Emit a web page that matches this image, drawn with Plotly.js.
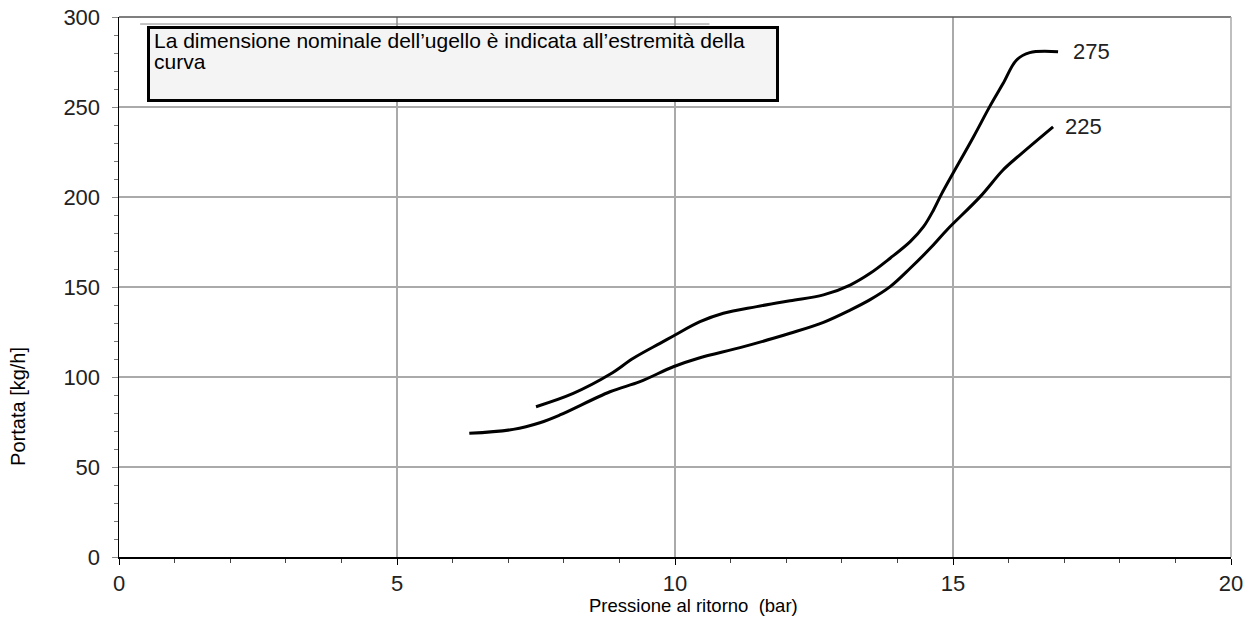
<!DOCTYPE html>
<html>
<head>
<meta charset="utf-8">
<script src="https://cdn.plot.ly/plotly-3.0.1.min.js"></script>
<style>html,body{margin:0;padding:0;background:#fff;}#chart{width:1256px;height:623px;}</style>
</head>
<body>
<div id="chart"></div>
<script>
// Nozzle 275 curve
const x275 = [7.5, 8.17, 8.83, 9.25, 9.73, 9.97, 10.45, 10.87, 11.47, 12.07, 12.67, 13.15, 13.51, 13.87, 14.23, 14.47, 14.65, 14.8, 15.37, 15.66, 15.9, 16.14, 16.38, 16.89];
const y275 = [83.5, 90.9, 101.5, 110.4, 118.7, 122.8, 130.7, 135.4, 139.1, 142.4, 145.6, 151.1, 157.6, 166, 175.2, 183.5, 192.8, 202, 233.5, 250.2, 263, 276, 280.2, 280.7];
// Nozzle 225 curve
const x225 = [6.3, 7.09, 7.57, 7.93, 8.83, 9.37, 9.97, 10.42, 11.17, 11.77, 12.07, 12.67, 13.15, 13.51, 13.87, 14.23, 14.59, 14.89, 15.49, 15.9, 16.2, 16.8];
const y225 = [68.7, 70.9, 74.6, 78.9, 91.8, 97.4, 105.7, 110.4, 116.3, 121.5, 124.3, 130.4, 137.2, 143, 150.2, 160.4, 171.5, 181.7, 200.2, 215, 223.3, 239];

const curveNames = ["275", "225"];
const xTickVals = [0, 5, 10, 15, 20];
const yTickVals = [0, 50, 100, 150, 200, 250, 300];
const noteLines = ["La dimensione nominale dell\u2019ugello è indicata all\u2019estremità della", "curva"];
const xTitle = "Pressione al ritorno \u00a0(bar)";
const yTitle = "Portata [kg/h]";

const FONT = "Liberation Sans, Arial, sans-serif";

const traces = [
  {x: x275, y: y275, mode: "lines", line: {color: "#000", width: 3, shape: "spline", smoothing: 1}, hoverinfo: "skip"},
  {x: x225, y: y225, mode: "lines", line: {color: "#000", width: 3, shape: "spline", smoothing: 1}, hoverinfo: "skip"}
];

const layout = {
  width: 1256, height: 623,
  margin: {l: 119, r: 25, t: 17, b: 66},
  paper_bgcolor: "#fff", plot_bgcolor: "#fff",
  showlegend: false,
  font: {family: FONT, color: "#222"},
  xaxis: {
    range: [0, 20], tickvals: xTickVals, ticktext: xTickVals.map(String),
    showgrid: true, gridcolor: "#aaa", gridwidth: 1.5, zeroline: false,
    showline: true, linecolor: "#000", linewidth: 1.5,
    ticks: "outside", ticklen: 6, tickcolor: "#000", tickwidth: 1,
    minor: {dtick: 1, ticks: "outside", ticklen: 4, tickcolor: "#444", showgrid: false},
    tickfont: {size: 22, family: FONT, color: "#222"},
    fixedrange: true
  },
  yaxis: {
    range: [0, 300], tickvals: yTickVals, ticktext: yTickVals.map(String),
    showgrid: true, gridcolor: "#aaa", gridwidth: 1.5, zeroline: false,
    showline: true, linecolor: "#000", linewidth: 1.5,
    ticks: "outside", ticklen: 6, tickcolor: "#888", tickwidth: 1,
    ticklabelstandoff: 7,
    minor: {dtick: 10, ticks: "outside", ticklen: 4, tickcolor: "#777", showgrid: false},
    tickfont: {size: 22, family: FONT, color: "#222"},
    fixedrange: true
  },
  shapes: [
    {type: "line", xref: "x", yref: "paper", x0: 5, x1: 5, y0: 0, y1: 1, line: {color: "#000", width: 1.3}, layer: "below"},
    {type: "line", xref: "paper", yref: "y", x0: 0, x1: 1, y0: 50, y1: 50, line: {color: "#000", width: 1.3}, layer: "below"},
    {type: "line", xref: "paper", yref: "y", x0: 0, x1: 1, y0: 250, y1: 250, line: {color: "#000", width: 1.3}, layer: "below"},
    {type: "line", xref: "paper", yref: "paper", x0: 0, x1: 1, y0: 1, y1: 1, line: {color: "#555", width: 1.5}},
    {type: "line", xref: "paper", yref: "paper", x0: 1, x1: 1, y0: 0, y1: 1, line: {color: "#aaa", width: 1.5}},
    {type: "line", xref: "paper", yref: "paper", x0: 0.019, x1: 0.531, y0: 0.987, y1: 0.987, line: {color: "#888", width: 1}}
  ],
  annotations: [
    {xref: "paper", yref: "paper", x: 0.0252, y: 0.983, xanchor: "left", yanchor: "top",
     text: " ", showarrow: false, width: 624, height: 68, bgcolor: "#f4f4f4",
     bordercolor: "#000", borderwidth: 3, borderpad: 1, font: {size: 10}},
    {xref: "paper", yref: "paper", x: 0.0297, y: 0.957, xanchor: "left", yanchor: "middle",
     text: noteLines[0], showarrow: false, font: {size: 21, family: FONT, color: "#000"}},
    {xref: "paper", yref: "paper", x: 0.0297, y: 0.9167, xanchor: "left", yanchor: "middle",
     text: noteLines[1], showarrow: false, font: {size: 21, family: FONT, color: "#000"}},
    {xref: "x", yref: "y", x: 17.12, y: 280.7, xanchor: "left", yanchor: "middle", text: curveNames[0], showarrow: false,
     font: {size: 22, family: FONT, color: "#222"}},
    {xref: "x", yref: "y", x: 16.98, y: 239, xanchor: "left", yanchor: "middle", text: curveNames[1], showarrow: false,
     font: {size: 22, family: FONT, color: "#222"}},
    {xref: "paper", yref: "paper", x: 0.517, y: -0.089, xanchor: "center", yanchor: "middle", text: xTitle, showarrow: false,
     font: {size: 18.5, family: FONT, color: "#000"}},
    {xref: "paper", yref: "paper", x: -0.0908, y: 0.278, xanchor: "center", yanchor: "middle", textangle: -90, text: yTitle, showarrow: false,
     font: {size: 20, family: FONT, color: "#000"}}
  ]
};

Plotly.newPlot("chart", traces, layout, {displayModeBar: false, staticPlot: true});
</script>
</body>
</html>
